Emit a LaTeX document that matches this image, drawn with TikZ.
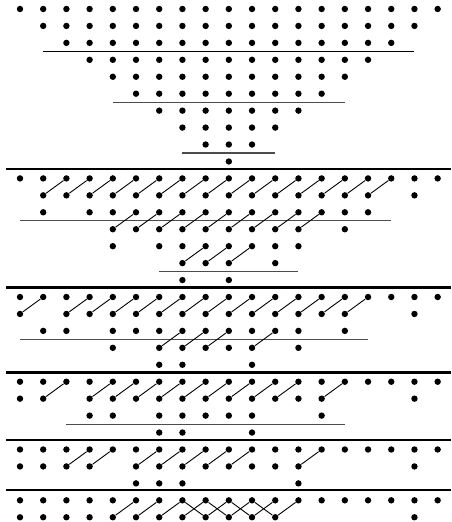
\documentclass[tikz,border=0pt]{standalone}

\begin{document}
\begin{tikzpicture}[x=11.6pt, y=-8.47pt,
    bead/.style={circle, fill=black, inner sep=0pt, minimum size=3.2pt},
    link/.style={line width=0.45pt},
    rule/.style={line width=0.55pt, black!70},
    bar/.style={line width=1.3pt}]
        \useasboundingbox (-0.862,-0.531) rectangle (18.578,30.28);

        % Dots, row by row
        \foreach \r/\cols in {0/{0,...,18}, 1/{1,...,17}, 2/{2,...,16},
            3/{3,...,15}, 4/{4,...,14}, 5/{5,...,13}, 6/{6,...,12},
            7/{7,...,11}, 8/{8,9,10}, 9/{9},
            10/{0,...,18}, 11/{1,...,15,17}, 12/{1,3,4,...,15},
            13/{4,...,12,14}, 14/{4,6,7,...,12}, 15/{7,8,9,11}, 16/{7,9},
            17/{0,...,18}, 18/{0,2,3,...,14,17}, 19/{1,2,4,5,...,12,14},
            20/{4,6,7,8,9,10,12}, 21/{6,7,10},
            22/{0,...,18}, 23/{0,1,3,4,...,13,17}, 24/{3,4,6,7,8,9,10,13},
            25/{6,7,10},
            26/{0,...,18}, 27/{0,1,2,3,5,6,...,12,17}, 28/{5,6,7,12},
            29/{0,...,18}, 30/{0,...,11,17}}{
            \foreach \c in \cols
                \node[bead] (p-\r-\c) at (\c,\r) {};
        }

        % Thin rules inside the blocks
        \draw[rule, line width=0.8pt, black] (1,2.5) -- (17,2.5);
        \draw[rule] (4,5.5) -- (14,5.5);
        \draw[rule] (7,8.5) -- (11,8.5);
        \draw[rule] (0,12.5) -- (16,12.5);
        \draw[rule] (6,15.5) -- (12,15.5);
        \draw[rule] (0,19.5) -- (15,19.5);
        \draw[rule] (2,24.5) -- (14,24.5);

        % Heavy bars between the blocks
        \foreach \y in {9.45, 16.45, 21.45, 25.45, 28.4}
            \draw[bar] (-0.6,\y) -- (18.578,\y);

        % Links up to the right
        \foreach \r/\cols in {11/{1,...,15}, 13/{4,...,12}, 15/{7,8,9},
            18/{0,2,3,...,14}, 20/{6,7,8,10}, 23/{1,3,4,...,11,13},
            27/{2,3,5,6,7,8,9,12}, 30/{4,...,11}}{
            \foreach \c in \cols {
                \pgfmathtruncatemacro\rowup{\r-1}
                \pgfmathtruncatemacro\colnx{\c+1}
                \draw[link] (p-\r-\c) -- (p-\rowup-\colnx);
            }
        }

        % Crossing links in the last block
        \foreach \c in {7,...,10} {
            \pgfmathtruncatemacro\colnx{\c+1}
            \draw[link] (p-29-\c) -- (p-30-\colnx);
        }
      \end{tikzpicture}
\end{document}
